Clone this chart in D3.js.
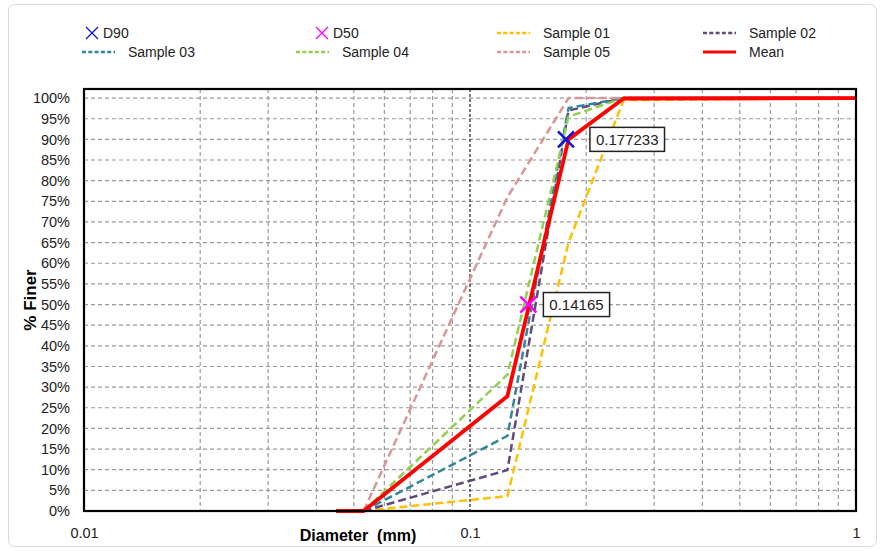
<!DOCTYPE html>
<html>
<head>
<meta charset="utf-8">
<script src="https://cdn.jsdelivr.net/npm/d3@7"></script>
<style>
  body { margin: 0; background: #fff; }
  text { font-family: "Liberation Sans", Arial, sans-serif; }
</style>
</head>
<body>
<div id="container"></div>
<script>
/* DATA */
const sieveSizes = [0.053, 0.125, 0.18, 0.25, 1];
const sample01 = [0, 0.036, 0.65, 0.995, 1];
const sample02 = [0, 0.099, 0.97, 1, 1];
const sample03 = [0, 0.182, 0.976, 1, 1];
const sample04 = [0, 0.33, 0.955, 1, 1];
const sample05 = [0, 0.76, 1, 1, 1];
const meanSizes = [0.045, 0.053, 0.125, 0.18, 0.25, 1];
const meanValues = [0, 0, 0.278, 0.90, 0.999, 1];
const d90 = { size: 0.177233, value: 0.9, label: "0.177233" };
const d50 = { size: 0.14165, value: 0.5, label: "0.14165" };
const xTicks = [0.01, 0.1, 1];
const yTicks = d3.range(0, 101, 5).map(d => d / 100);

/* CONSTANTS */
const width = 881, height = 551;
const plotLeft = 84, plotRight = 856, plotTop = 89, plotBottom = 511;

const svg = d3.select("#container")
  .append("svg")
  .attr("width", width)
  .attr("height", height);

// outer chart border
svg.append("rect")
  .attr("x", 8.5).attr("y", 4.5)
  .attr("width", 868).attr("height", 542)
  .attr("rx", 6)
  .attr("fill", "none")
  .attr("stroke", "#d9d9d9");

/* SCALES */
const xScale = d3.scaleLog().domain([0.01, 1]).range([plotLeft, plotRight]);
const yScale = d3.scaleLinear().domain([0, 1.022]).range([plotBottom, plotTop]);

// minor vertical grid
const minor = [];
[0.01, 0.1].forEach(b => d3.range(2, 10).forEach(m => minor.push(b * m)));
svg.append("g").selectAll("line")
  .data(minor)
  .join("line")
  .attr("x1", d => xScale(d)).attr("x2", d => xScale(d))
  .attr("y1", plotTop).attr("y2", plotBottom)
  .attr("stroke", "#9a9a9a")
  .attr("stroke-width", 1.2)
  .attr("stroke-dasharray", "4,3");

// horizontal grid
svg.append("g").selectAll("line")
  .data(yTicks.filter(d => d > 0))
  .join("line")
  .attr("x1", plotLeft).attr("x2", plotRight)
  .attr("y1", d => yScale(d)).attr("y2", d => yScale(d))
  .attr("stroke", "#9a9a9a")
  .attr("stroke-width", 1.2)
  .attr("stroke-dasharray", "4,3");

// major vertical at 0.1
svg.append("line")
  .attr("x1", xScale(0.1)).attr("x2", xScale(0.1))
  .attr("y1", plotTop).attr("y2", plotBottom)
  .attr("stroke", "#222")
  .attr("stroke-width", 1.2)
  .attr("stroke-dasharray", "3,2");

/* AXES */
const yAxis = d3.axisLeft(yScale)
  .tickValues(yTicks)
  .tickFormat(d => Math.round(d * 100) + "%")
  .tickSize(0).tickPadding(14);
svg.append("g")
  .attr("transform", `translate(${plotLeft},0)`)
  .call(yAxis)
  .call(g => g.select(".domain").remove())
  .call(g => g.selectAll("text").attr("font-size", 14.5).attr("fill", "#222")
    .attr("font-family", "Liberation Sans, Arial, sans-serif"));

const xAxis = d3.axisBottom(xScale)
  .tickValues(xTicks)
  .tickFormat(d => String(d))
  .tickSize(0).tickPadding(17);
svg.append("g")
  .attr("transform", `translate(0,${plotBottom})`)
  .call(xAxis)
  .call(g => g.select(".domain").remove())
  .call(g => g.selectAll("text").attr("font-size", 14.5).attr("fill", "#222")
    .attr("font-family", "Liberation Sans, Arial, sans-serif"));

svg.append("text")
  .attr("x", 358).attr("y", 541)
  .attr("text-anchor", "middle")
  .attr("font-size", 16).attr("font-weight", "bold")
  .attr("xml:space", "preserve")
  .text("Diameter  (mm)");

svg.append("text")
  .attr("transform", "translate(36,300) rotate(-90)")
  .attr("text-anchor", "middle")
  .attr("font-size", 17).attr("font-weight", "bold")
  .text("% Finer");

/* LINES */
const line = d3.line().x(d => xScale(d[0])).y(d => yScale(d[1]));
const series = [
  { name: "Sample 01", values: sample01, color: "#FFC000" },
  { name: "Sample 02", values: sample02, color: "#604A7B" },
  { name: "Sample 03", values: sample03, color: "#31859C" },
  { name: "Sample 04", values: sample04, color: "#92D050" },
  { name: "Sample 05", values: sample05, color: "#D99694" }
];

svg.append("clipPath").attr("id", "clip")
  .append("rect").attr("x", plotLeft - 60).attr("y", plotTop)
  .attr("width", plotRight - plotLeft + 60).attr("height", plotBottom - plotTop + 4);

const lines = svg.append("g").attr("clip-path", "url(#clip)");
lines.selectAll("path.sample")
  .data(series)
  .join("path")
  .attr("class", "sample")
  .attr("d", s => line(sieveSizes.map((x, i) => [x, s.values[i]])))
  .attr("fill", "none")
  .attr("stroke", s => s.color)
  .attr("stroke-width", 2.5)
  .attr("stroke-dasharray", "8,4");

lines.append("path")
  .attr("d", line(meanSizes.map((x, i) => [x, meanValues[i]])))
  .attr("fill", "none")
  .attr("stroke", "#FF0000")
  .attr("stroke-width", 3.8)
  .attr("stroke-linejoin", "round");

// plot frame
svg.append("rect")
  .attr("x", plotLeft).attr("y", plotTop)
  .attr("width", plotRight - plotLeft).attr("height", plotBottom - plotTop)
  .attr("fill", "none")
  .attr("stroke", "#000")
  .attr("stroke-width", 2.2);

/* MARKERS */
function cross(g, cx, cy, r, color, w) {
  g.append("path")
    .attr("d", `M${cx - r},${cy - r}L${cx + r},${cy + r}M${cx - r},${cy + r}L${cx + r},${cy - r}`)
    .attr("stroke", color).attr("stroke-width", w).attr("fill", "none");
}
cross(svg, xScale(d90.size), yScale(d90.value), 8, "#1010E0", 2.5);
cross(svg, xScale(d50.size), yScale(d50.value), 8, "#FF00FF", 2.5);

function dataLabel(pt, dx) {
  const cx = xScale(pt.size) + dx, cy = yScale(pt.value);
  const g = svg.append("g");
  const t = g.append("text")
    .attr("x", cx + 6).attr("y", cy + 5.5)
    .attr("font-size", 15).attr("fill", "#222")
    .text(pt.label);
  const w = t.node().getComputedTextLength();
  g.insert("rect", "text")
    .attr("x", cx).attr("y", cy - 12)
    .attr("width", w + 12).attr("height", 24)
    .attr("fill", "#fff").attr("stroke", "#222").attr("stroke-width", 1.5);
}
dataLabel(d90, 24);
dataLabel(d50, 15);

/* LEGEND */
const legendItems = [
  { name: "D90", type: "cross", color: "#1010E0", x: 92, y: 33 },
  { name: "D50", type: "cross", color: "#FF00FF", x: 322, y: 33 },
  { name: "Sample 01", type: "dash", color: "#FFC000", x: 497, y: 33 },
  { name: "Sample 02", type: "dash", color: "#604A7B", x: 703, y: 33 },
  { name: "Sample 03", type: "dash", color: "#31859C", x: 82, y: 52 },
  { name: "Sample 04", type: "dash", color: "#92D050", x: 296, y: 52 },
  { name: "Sample 05", type: "dash", color: "#D99694", x: 497, y: 52 },
  { name: "Mean", type: "solid", color: "#FF0000", x: 703, y: 52 }
];
const legend = svg.append("g");
legendItems.forEach(d => {
  if (d.type === "cross") {
    cross(legend, d.x, d.y, 6, d.color, 1.3);
    legend.append("text").attr("x", d.x + 11).attr("y", d.y + 5)
      .attr("font-size", 14).attr("fill", "#222").text(d.name);
  } else {
    legend.append("line")
      .attr("x1", d.x).attr("x2", d.x + 33)
      .attr("y1", d.y).attr("y2", d.y)
      .attr("stroke", d.color)
      .attr("stroke-width", d.type === "solid" ? 3 : 2.5)
      .attr("stroke-dasharray", d.type === "solid" ? null : "4,2.3");
    legend.append("text").attr("x", d.x + 46).attr("y", d.y + 5)
      .attr("font-size", 14).attr("fill", "#222").text(d.name);
  }
});
</script>
</body>
</html>
